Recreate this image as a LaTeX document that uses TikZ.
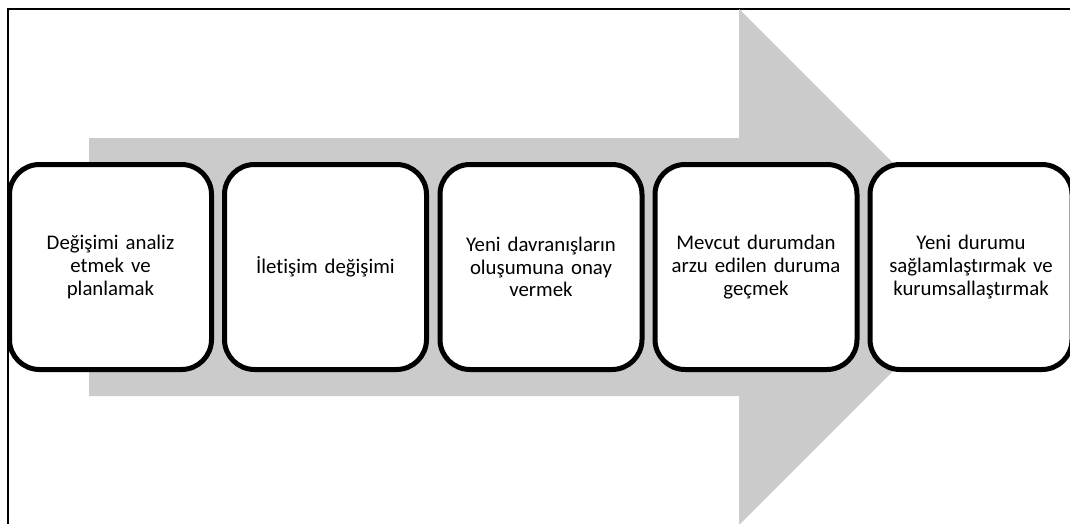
\documentclass[tikz,border=0pt]{standalone}
\usepackage{fontspec}
\setmainfont{Carlito}[Ligatures=NoCommon]
\definecolor{arrowgray}{HTML}{CBCBCB}
\begin{document}
\begin{tikzpicture}[x=1pt,y=-1pt,
  stagebox/.style={draw=black, line width=5pt, fill=white, rounded corners=30pt,
    minimum width=202pt, minimum height=205pt, text width=198pt, align=center,
    inner sep=0pt, font=\fontsize{20.8}{22.8}\selectfont},
  frameline/.style={draw=black, line width=1.5pt}]
  \useasboundingbox (0,0) rectangle (1070,523);
  \clip (0,0) rectangle (1070,523);
  % open frame: left and top edges
  \draw[frameline] (8,530) -- (8,9) -- (1080,9);
  % broad background arrow
  \fill[arrowgray] (89,138) -- (739,138) -- (739,9) -- (997,267) -- (739,525)
    -- (739,396) -- (89,396) -- cycle;
  % process stages
  \node[stagebox] (s1) at (110.5,267) {Değişimi analiz\\etmek ve\\planlamak};
  \node[stagebox] (s2) at (325.5,267) {İletişim değişimi};
  \node[stagebox] (s3) at (541,267) {Yeni davranışların\\oluşumuna onay\\vermek};
  \node[stagebox] (s4) at (756,267) {Mevcut durumdan\\arzu edilen duruma\\geçmek};
  \node[stagebox] (s5) at (971,267) {Yeni durumu\\sağlamlaştırmak ve\\kurumsallaştırmak};
\end{tikzpicture}
\end{document}
